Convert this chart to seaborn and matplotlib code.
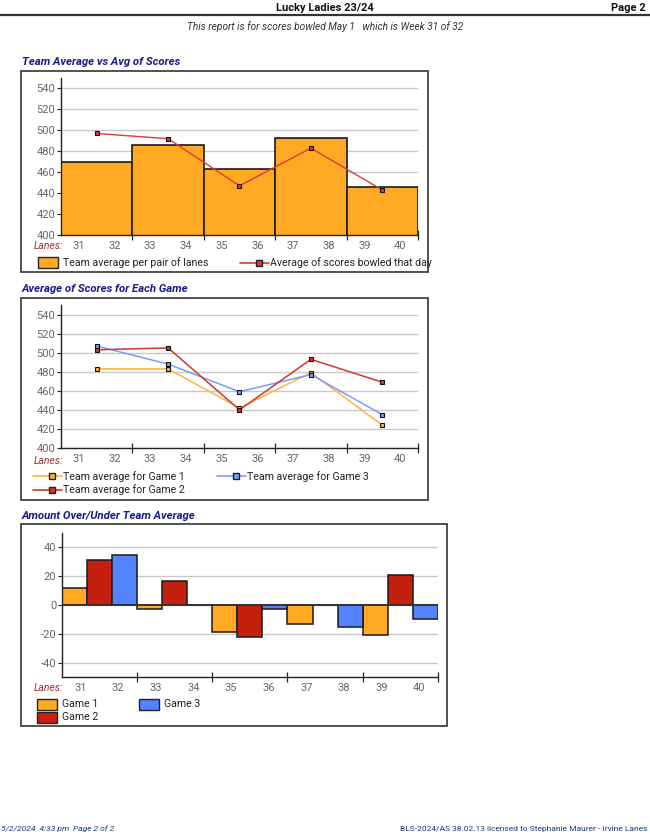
import matplotlib
matplotlib.use('Agg')
import matplotlib.pyplot as plt
import seaborn as sns
import pandas as pd
from matplotlib.patches import Rectangle
from matplotlib.lines import Line2D

# dados
lanes = [31, 32, 33, 34, 35, 36, 37, 38, 39, 40]
pairs = [0, 1, 2, 3, 4]
team_avg = [470, 486, 463, 493, 446]
day_avg = [497, 492, 447, 483, 443]
game1 = [483, 483, 442, 479, 424]
game2 = [503, 505, 440, 493, 469]
game3 = [507, 488, 459, 477, 435]
diff1 = [12, -3, -19, -13, -21]
diff2 = [31, 17, -22, 0, 21]
diff3 = [35, 0, -3, -15, -10]
games = ['Game 1', 'Game 2', 'Game 3']

ORANGE = '#FFAA22'
RED = '#C4200F'
BLUE = '#5383FF'
L_ORANGE = '#FFB33F'
L_RED = '#D0382B'
L_BLUE = '#7B9CFF'
NAVY = '#1a1a8a'
NARROW = ['Liberation Sans Narrow', 'Roboto', 'DejaVu Sans']

sns.set_theme(style='white')
plt.rcParams['font.family'] = ['Roboto', 'DejaVu Sans']

W, H = 650, 838
fig = plt.figure(figsize=(6.5, 8.38), dpi=100)
fig.patch.set_facecolor('white')


def fx(x):
    return x / W


def fy(y):
    return 1 - y / H


def add_ax(l, t, r, b):
    return fig.add_axes([fx(l), fy(b), (r - l) / W, (b - t) / H])


def box(l, t, r, b):
    fig.patches.append(Rectangle((fx(l), fy(b)), (r - l) / W, (b - t) / H,
                                 transform=fig.transFigure, fill=False,
                                 ec='#333333', lw=1.2))


def style(ax, yticks, ylim):
    ax.set_xlim(-0.5, 4.5)
    ax.set_ylim(*ylim)
    ax.set_yticks(yticks)
    ax.set_yticklabels([str(v) for v in yticks])
    ax.yaxis.grid(True, color='#c8c8c8', lw=1)
    ax.set_axisbelow(True)
    for s in ['top', 'right']:
        ax.spines[s].set_visible(False)
    for s in ['left', 'bottom']:
        ax.spines[s].set_color('#222222')
        ax.spines[s].set_linewidth(1)
    ax.tick_params(axis='y', left=True, length=3, width=0.8, color='#222222',
                   labelsize=8, labelcolor='#666666', pad=1)
    ax.set_xticks([0.5, 1.5, 2.5, 3.5, 4.5])
    ax.set_xticklabels([])
    ax.tick_params(axis='x', which='major', bottom=True, direction='inout',
                   length=7, width=0.9, color='#222222')
    pos = [p + o for p in pairs for o in (-0.25, 0.25)]
    ax.set_xticks(pos, minor=True)
    ax.set_xticklabels([str(v) for v in lanes], minor=True)
    ax.tick_params(axis='x', which='minor', length=0, labelsize=8,
                   labelcolor='#666666', pad=4)
    ax.set_xlabel('')
    ax.set_ylabel('')


def lanes_label(y):
    fig.text(fx(48), fy(y), 'Lanes:', ha='center', va='center', fontsize=7.5,
             style='italic', color='#a03030')


def title(y, s):
    fig.text(fx(22), fy(y), s, ha='left', va='center', fontsize=8.2,
             family=NARROW, weight='bold', style='italic', color=NAVY)


def leg_patch(x, y, c, s):
    fig.patches.append(Rectangle((fx(x), fy(y + 5.5)), 20 / W, 11 / H,
                                 transform=fig.transFigure, fc=c, ec='#222222', lw=1))
    fig.text(fx(x + 25), fy(y), s, ha='left', va='center', fontsize=7.6, color='#222222')


def leg_line(x, y, c, s):
    fig.lines.append(Line2D([fx(x), fx(x + 29)], [fy(y), fy(y)],
                            transform=fig.transFigure, color=c, lw=1.2))
    fig.lines.append(Line2D([fx(x + 19)], [fy(y)], transform=fig.transFigure,
                            marker='s', ms=5, mfc=c, mec='#222222', mew=1, ls='none'))
    fig.text(fx(x + 30), fy(y), s, ha='left', va='center', fontsize=7.6, color='#222222')


# cabecalho
fig.text(0.5, fy(8), 'Lucky Ladies 23/24', ha='center', va='center', fontsize=8,
         family=NARROW, weight='bold', color='#111111')
fig.text(fx(646), fy(8), 'Page 2', ha='right', va='center', fontsize=8,
         family=NARROW, weight='bold', color='#111111')
fig.lines.append(Line2D([0, 1], [fy(15.5), fy(15.5)], transform=fig.transFigure,
                        color='#333333', lw=1.6))
fig.text(0.5, fy(27), 'This report is for scores bowled May 1   which is Week 31 of 32',
         ha='center', va='center', fontsize=7.3, family=NARROW, style='italic',
         color='#333333')

# grafico 1
title(62, 'Team Average vs Avg of Scores')
box(21, 71, 428, 272)
ax1 = add_ax(61, 78, 418, 235)
df1 = pd.DataFrame({'pair': pairs, 'team': team_avg, 'day': day_avg})
sns.barplot(data=df1, x='pair', y='team', color=ORANGE, width=1, saturation=1,
            edgecolor='#1a1a1a', linewidth=1.2, errorbar=None, ax=ax1)
sns.lineplot(data=df1, x='pair', y='day', color='#DC3A3A', lw=1, marker='s',
             markersize=3.5, markerfacecolor='#DC3A3A', markeredgecolor='#111111',
             markeredgewidth=0.8, ax=ax1)
style(ax1, [400, 420, 440, 460, 480, 500, 520, 540], (400, 550))
lanes_label(246)
leg_patch(38, 263, ORANGE, 'Team average per pair of lanes')
leg_line(240, 263, '#DC3A3A', 'Average of scores bowled that day')

# grafico 2
title(289, 'Average of Scores for Each Game')
box(21, 298, 428, 500)
ax2 = add_ax(61, 305, 418, 448)
df2 = pd.DataFrame({'pair': pairs * 3, 'score': game1 + game2 + game3,
                    'game': [g for g in games for _ in pairs]})
sns.lineplot(data=df2, x='pair', y='score', hue='game',
             hue_order=['Game 1', 'Game 3', 'Game 2'],
             palette={'Game 1': L_ORANGE, 'Game 2': L_RED, 'Game 3': L_BLUE},
             lw=1.1, marker='s', markersize=3.5, markeredgecolor='#111111',
             markeredgewidth=0.8, legend=False, ax=ax2)
style(ax2, [400, 420, 440, 460, 480, 500, 520, 540], (400, 550))
lanes_label(461)
leg_line(33, 476.5, L_ORANGE, 'Team average for Game 1')
leg_line(217, 476.5, L_BLUE, 'Team average for Game 3')
leg_line(33, 489.5, L_RED, 'Team average for Game 2')

# grafico 3
title(516, 'Amount Over/Under Team Average')
box(21, 524, 447, 726)
ax3 = add_ax(61.7, 533, 438, 677)
df3 = pd.DataFrame({'pair': pairs * 3, 'diff': diff1 + diff2 + diff3,
                    'game': [g for g in games for _ in pairs]})
ax3.axhline(0, color='#333333', lw=1.2, zorder=1.5)
sns.barplot(data=df3, x='pair', y='diff', hue='game', hue_order=games,
            palette={'Game 1': ORANGE, 'Game 2': RED, 'Game 3': BLUE},
            width=1, saturation=1, edgecolor='#1a1a1a', linewidth=1.1,
            errorbar=None, legend=False, ax=ax3)
style(ax3, [-40, -20, 0, 20, 40], (-50, 50))
lanes_label(688)
leg_patch(37, 704, ORANGE, 'Game 1')
leg_patch(37, 717, RED, 'Game 2')
leg_patch(139, 704, BLUE, 'Game 3')

# rodape
fig.text(fx(1), fy(829), '5/2/2024  4:33 pm  Page 2 of 2', ha='left', va='center',
         fontsize=6, style='italic', color='#1a3a7a')
fig.text(fx(648), fy(829), 'BLS-2024/AS 38.02.13 licensed to Stephanie Maurer - Irvine Lanes',
         ha='right', va='center', fontsize=6, color='#1a3a7a')

fig.savefig('out.png', dpi=100)
